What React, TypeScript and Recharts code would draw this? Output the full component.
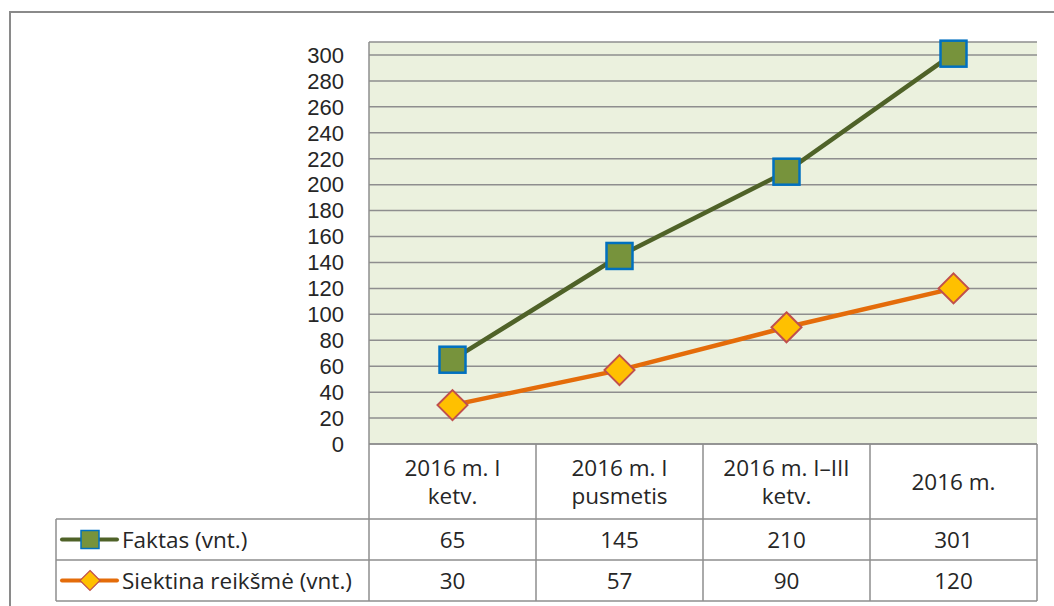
import React from "react";
import { LineChart, Line, XAxis, YAxis, CartesianGrid } from "recharts";

const categories = ["2016 m. I\nketv.", "2016 m. I\npusmetis", "2016 m. I–III\nketv.", "2016 m."];
const faktas = [65, 145, 210, 301];
const siektina = [30, 57, 90, 120];
const yTicks = [0, 20, 40, 60, 80, 100, 120, 140, 160, 180, 200, 220, 240, 260, 280, 300];
const seriesNames = ["Faktas (vnt.)", "Siektina reikšmė (vnt.)"];

const chartData = categories.map((category, i) => ({
  category,
  faktas: faktas[i],
  siektina: siektina[i],
}));

const FONT = "'Open Sans', 'Noto Sans', sans-serif";
const FS = 22.5;
const TEXT = "#262626";
const GRID = "#8e8e8e";
const PLOT_LEFT = 369;
const PLOT_RIGHT = 1037;
const HALF_BAND = (PLOT_RIGHT - PLOT_LEFT) / categories.length / 2;
const HEADER_H = 75;
const ROW_H = 41;
const LABEL_LEFT = 56;

const SquareDot = (props: any) => {
  const { cx, cy, index } = props;
  if (cx == null || cy == null) return <g key={`s${index}`} />;
  return (
    <rect key={`s${index}`} x={cx - 13} y={cy - 13} width={26} height={26}
      fill="#77933C" stroke="#0070C0" strokeWidth={2.5} />
  );
};

const DiamondDot = (props: any) => {
  const { cx, cy, index } = props;
  if (cx == null || cy == null) return <g key={`d${index}`} />;
  const r = 15;
  return (
    <polygon key={`d${index}`} points={`${cx},${cy - r} ${cx + r},${cy} ${cx},${cy + r} ${cx - r},${cy}`}
      fill="#FFC000" stroke="#C0504D" strokeWidth={2} />
  );
};

// each x tick draws its column of the data table below the plot
const TableColumn = (props: any) => {
  const { x, y, payload } = props;
  const i = categories.indexOf(payload.value);
  const lines = String(payload.value).split("\n");
  const top = y;
  const r1 = top + HEADER_H;
  const r2 = r1 + ROW_H;
  const r3 = r2 + ROW_H;
  const left = x - HALF_BAND;
  const right = x + HALF_BAND;
  const headerMid = top + HEADER_H / 2;
  const lineStyle = { stroke: GRID, strokeWidth: 1.5 };
  return (
    <g>
      <line x1={left} y1={top} x2={right} y2={top} {...lineStyle} />
      <line x1={right} y1={top} x2={right} y2={r3} {...lineStyle} />
      <line x1={left} y1={r1} x2={right} y2={r1} {...lineStyle} />
      <line x1={left} y1={r2} x2={right} y2={r2} {...lineStyle} />
      <line x1={left} y1={r3} x2={right} y2={r3} {...lineStyle} />
      {i === 0 && (
        <g>
          <line x1={left} y1={top} x2={left} y2={r3} {...lineStyle} />
          <line x1={LABEL_LEFT} y1={r1} x2={left} y2={r1} {...lineStyle} />
          <line x1={LABEL_LEFT} y1={r2} x2={left} y2={r2} {...lineStyle} />
          <line x1={LABEL_LEFT} y1={r3} x2={left} y2={r3} {...lineStyle} />
          <line x1={LABEL_LEFT} y1={r1} x2={LABEL_LEFT} y2={r3} {...lineStyle} />
          <line x1={62} y1={r1 + ROW_H / 2} x2={117} y2={r1 + ROW_H / 2} stroke="#4F6228" strokeWidth={4} strokeLinecap="round" />
          <rect x={81} y={r1 + ROW_H / 2 - 9} width={18} height={18} fill="#77933C" stroke="#0070C0" strokeWidth={1.5} />
          <text x={122} y={r1 + ROW_H / 2} dominantBaseline="central" fill={TEXT} fontSize={FS} fontFamily={FONT}>
            {seriesNames[0]}
          </text>
          <line x1={62} y1={r2 + ROW_H / 2} x2={117} y2={r2 + ROW_H / 2} stroke="#E46C0A" strokeWidth={4} strokeLinecap="round" />
          <polygon
            points={`90,${r2 + ROW_H / 2 - 10} 100,${r2 + ROW_H / 2} 90,${r2 + ROW_H / 2 + 10} 80,${r2 + ROW_H / 2}`}
            fill="#FFC000" stroke="#C0504D" strokeWidth={1.2} />
          <text x={122} y={r2 + ROW_H / 2} dominantBaseline="central" fill={TEXT} fontSize={FS} fontFamily={FONT}>
            {seriesNames[1]}
          </text>
        </g>
      )}
      {lines.map((t, k) => (
        <text key={k} x={x} y={headerMid + (k - (lines.length - 1) / 2) * 28} textAnchor="middle"
          dominantBaseline="central" fill={TEXT} fontSize={FS} fontFamily={FONT}>
          {t}
        </text>
      ))}
      <text x={x} y={r1 + ROW_H / 2} textAnchor="middle" dominantBaseline="central" fill={TEXT} fontSize={FS} fontFamily={FONT}>
        {faktas[i]}
      </text>
      <text x={x} y={r2 + ROW_H / 2} textAnchor="middle" dominantBaseline="central" fill={TEXT} fontSize={FS} fontFamily={FONT}>
        {siektina[i]}
      </text>
    </g>
  );
};

const App: React.FC = () => {
  return (
    <div style={{ position: "absolute", left: 0, top: 0, width: 1054, height: 606, overflow: "hidden", background: "#fff" }}>
      <div style={{ position: "absolute", left: 9, top: 11, width: 1100, height: 700, border: "2px solid #8a8a8a" }} />
      <div style={{ position: "absolute", left: 0, top: 0 }}>
        <LineChart width={1054} height={606} data={chartData} margin={{ top: 42, right: 1054 - PLOT_RIGHT, bottom: 0, left: 0 }}>
          <CartesianGrid vertical={false} fill="#EBF1DE" stroke={GRID} strokeWidth={1.5} />
          <XAxis dataKey="category" height={162} axisLine={false} tickLine={false} tickSize={0} tickMargin={0}
            padding={{ left: HALF_BAND, right: HALF_BAND }} interval={0} tick={<TableColumn />} />
          <YAxis width={PLOT_LEFT} domain={[0, 310]} ticks={yTicks} interval={0} tickLine={false} tickSize={0} tickMargin={25}
            axisLine={{ stroke: GRID, strokeWidth: 1.5 }}
            tick={{ fill: TEXT, fontSize: 22, fontFamily: "'Liberation Sans', Arial, sans-serif" }} />
          <Line type="linear" dataKey="faktas" stroke="#4F6228" strokeWidth={4.5} dot={SquareDot} activeDot={false} isAnimationActive={false} />
          <Line type="linear" dataKey="siektina" stroke="#E46C0A" strokeWidth={4.5} dot={DiamondDot} activeDot={false} isAnimationActive={false} />
        </LineChart>
      </div>
    </div>
  );
};

export default App;
